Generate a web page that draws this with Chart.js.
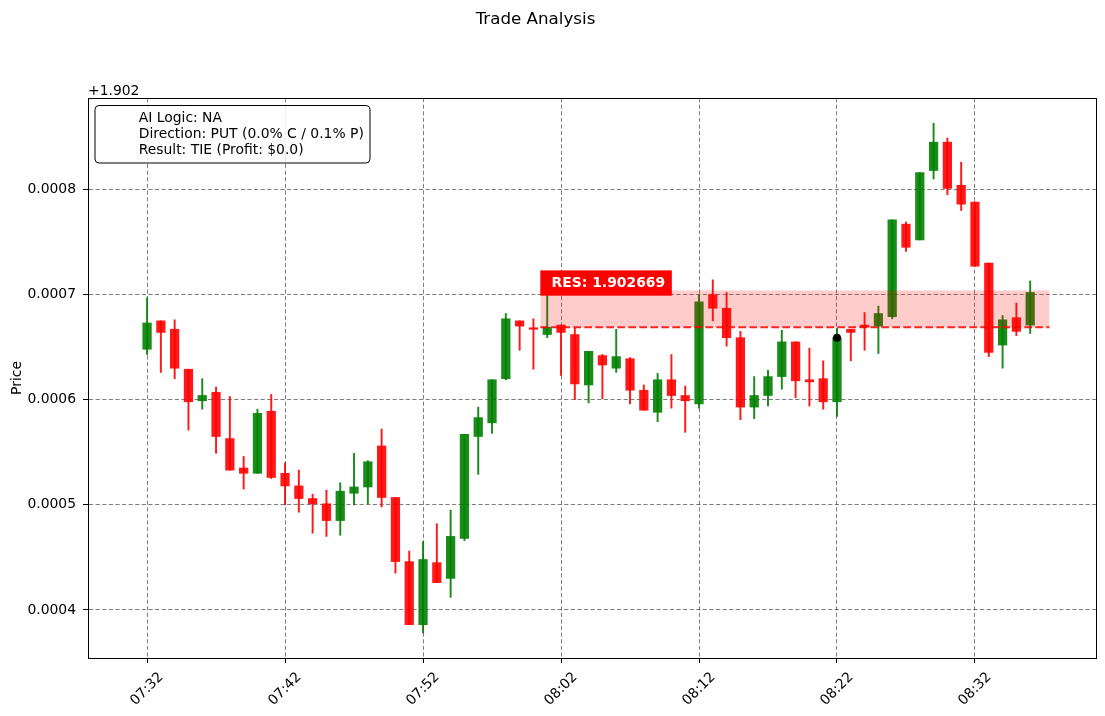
<!doctype html>
<html lang="en">
<head>
<meta charset="utf-8">
<title>Trade Analysis</title>
<script src="https://cdn.jsdelivr.net/npm/chart.js@4.4.1/dist/chart.umd.min.js"></script>
<style>
    html, body { margin: 0; padding: 0; background: #fff; }
    #wrap { width: 1105px; height: 716px; }
</style>
</head>
<body>
<div id="wrap"><canvas id="chart" width="1105" height="716"></canvas></div>
<script>
    // price axis is shown as an offset from this value
    const basePrice = 1.902;

    const times = [
        '07:32', '07:33', '07:34', '07:35', '07:36', '07:37', '07:38', '07:39', '07:40', '07:41',
        '07:42', '07:43', '07:44', '07:45', '07:46', '07:47', '07:48', '07:49', '07:50', '07:51',
        '07:52', '07:53', '07:54', '07:55', '07:56', '07:57', '07:58', '07:59', '08:00', '08:01',
        '08:02', '08:03', '08:04', '08:05', '08:06', '08:07', '08:08', '08:09', '08:10', '08:11',
        '08:12', '08:13', '08:14', '08:15', '08:16', '08:17', '08:18', '08:19', '08:20', '08:21',
        '08:22', '08:23', '08:24', '08:25', '08:26', '08:27', '08:28', '08:29', '08:30', '08:31',
        '08:32', '08:33', '08:34', '08:35', '08:36'
    ];
    const opens = [
        1.902648, 1.902675, 1.902667, 1.902629, 1.902599, 1.902607, 1.902563, 1.902535, 1.902530, 1.902589,
        1.902530, 1.902518, 1.902506, 1.902501, 1.902485, 1.902511, 1.902517, 1.902556, 1.902507, 1.902446,
        1.902386, 1.902445, 1.902430, 1.902468, 1.902565, 1.902578, 1.902620, 1.902675, 1.902668, 1.902662,
        1.902671, 1.902662, 1.902614, 1.902642, 1.902630, 1.902639, 1.902609, 1.902588, 1.902619, 1.902604,
        1.902596, 1.902700, 1.902687, 1.902659, 1.902593, 1.902604, 1.902622, 1.902655, 1.902619, 1.902620,
        1.902598, 1.902667, 1.902671, 1.902670, 1.902679, 1.902767, 1.902752, 1.902818, 1.902845, 1.902804,
        1.902788, 1.902730, 1.902652, 1.902678, 1.902671
    ];
    const highs = [
        1.902697, 1.902675, 1.902676, 1.902629, 1.902620, 1.902612, 1.902603, 1.902546, 1.902591, 1.902605,
        1.902540, 1.902533, 1.902510, 1.902514, 1.902521, 1.902549, 1.902542, 1.902572, 1.902507, 1.902456,
        1.902465, 1.902482, 1.902495, 1.902567, 1.902593, 1.902619, 1.902682, 1.902675, 1.902677, 1.902699,
        1.902671, 1.902668, 1.902646, 1.902643, 1.902667, 1.902640, 1.902614, 1.902625, 1.902643, 1.902613,
        1.902700, 1.902714, 1.902702, 1.902665, 1.902622, 1.902628, 1.902666, 1.902655, 1.902649, 1.902637,
        1.902668, 1.902667, 1.902683, 1.902689, 1.902771, 1.902769, 1.902816, 1.902863, 1.902849, 1.902826,
        1.902788, 1.902730, 1.902680, 1.902692, 1.902713
    ];
    const lows = [
        1.902643, 1.902626, 1.902620, 1.902571, 1.902591, 1.902549, 1.902533, 1.902515, 1.902530, 1.902525,
        1.902500, 1.902493, 1.902473, 1.902470, 1.902471, 1.902500, 1.902501, 1.902498, 1.902435, 1.902386,
        1.902378, 1.902426, 1.902412, 1.902466, 1.902529, 1.902568, 1.902619, 1.902647, 1.902629, 1.902659,
        1.902623, 1.902600, 1.902597, 1.902601, 1.902626, 1.902596, 1.902590, 1.902579, 1.902592, 1.902569,
        1.902592, 1.902675, 1.902651, 1.902581, 1.902582, 1.902594, 1.902610, 1.902602, 1.902594, 1.902591,
        1.902584, 1.902637, 1.902647, 1.902644, 1.902677, 1.902741, 1.902752, 1.902810, 1.902795, 1.902780,
        1.902727, 1.902641, 1.902630, 1.902661, 1.902663
    ];
    const closes = [
        1.902673, 1.902664, 1.902630, 1.902598, 1.902604, 1.902565, 1.902533, 1.902530, 1.902587, 1.902526,
        1.902518, 1.902506, 1.902501, 1.902485, 1.902513, 1.902517, 1.902541, 1.902507, 1.902446, 1.902386,
        1.902448, 1.902426, 1.902470, 1.902567, 1.902583, 1.902619, 1.902677, 1.902670, 1.902667, 1.902669,
        1.902664, 1.902615, 1.902646, 1.902633, 1.902641, 1.902609, 1.902590, 1.902619, 1.902604, 1.902599,
        1.902693, 1.902687, 1.902659, 1.902593, 1.902604, 1.902622, 1.902655, 1.902618, 1.902617, 1.902598,
        1.902659, 1.902664, 1.902669, 1.902682, 1.902771, 1.902745, 1.902816, 1.902845, 1.902801, 1.902786,
        1.902727, 1.902645, 1.902676, 1.902665, 1.902702
    ];

    const xTickIdx = [0, 10, 20, 30, 40, 50, 60];
    const yTicks = [1.9024, 1.9025, 1.9026, 1.9027, 1.9028];

    // resistance zone
    const resLevel = 1.902669;
    const resTop = 1.902704;
    const resSpan = [28.5, 65.4];

    // entry marker
    const entryIdx = 50;
    const entryPrice = 1.902659;

    const infoLines = ['AI Logic: NA', 'Direction: PUT (0.0% C / 0.1% P)', 'Result: TIE (Profit: $0.0)'];

    const FONT = 'DejaVu Sans';
    const upColor = 'rgba(0,128,0,0.9)';
    const downColor = 'rgba(255,0,0,0.9)';
    const candleColors = opens.map((o, i) => closes[i] >= o ? upColor : downColor);

    Chart.defaults.font.family = FONT;
    Chart.defaults.color = '#000';

    const gridOpts = {
        color: 'rgba(0,0,0,0.5)',
        lineWidth: 1,
        offset: false,
        drawTicks: true,
        tickLength: 5,
        tickColor: '#000',
        tickWidth: 1,
        tickBorderDash: []
    };
    const borderOpts = {display: true, color: '#000', width: 1, dash: [4.2, 2.4]};

    const decor = {
        id: 'decor',
        beforeDraw(chart) {
            const ctx = chart.ctx;
            ctx.save();
            ctx.fillStyle = '#fff';
            ctx.fillRect(0, 0, chart.width, chart.height);
            ctx.restore();
        },
        afterDatasetsDraw(chart) {
            // RES label above the zone
            const {ctx, scales: {x, y}} = chart;
            const x0 = x.getPixelForValue(resSpan[0]);
            const yTopPx = y.getPixelForValue(resTop);
            const label = 'RES: ' + resLevel.toFixed(6);
            ctx.save();
            ctx.font = 'bold 13.9px "' + FONT + '"';
            const w = ctx.measureText(label).width + 18;
            ctx.fillStyle = '#ff0000';
            ctx.fillRect(x0, yTopPx - 20, w, 25.3);
            ctx.fillStyle = '#fff';
            ctx.textAlign = 'left';
            ctx.textBaseline = 'middle';
            ctx.fillText(label, x0 + 11.3, yTopPx - 20 + 12.9);
            ctx.restore();
        },
        afterDraw(chart) {
            const {ctx, chartArea: a, scales: {x}} = chart;
            ctx.save();

            // top and right spines
            ctx.strokeStyle = '#000';
            ctx.lineWidth = 1;
            ctx.strokeRect(Math.round(a.left) + 0.5, Math.round(a.top) + 0.5,
                Math.round(a.right - a.left), Math.round(a.bottom - a.top));

            // figure title
            ctx.fillStyle = '#000';
            ctx.font = '16.7px "' + FONT + '"';
            ctx.textAlign = 'center';
            ctx.textBaseline = 'middle';
            ctx.fillText('Trade Analysis', 535.5, 19.5);

            // offset text of the price axis
            ctx.font = '13.9px "' + FONT + '"';
            ctx.textAlign = 'left';
            ctx.textBaseline = 'alphabetic';
            ctx.fillText('+' + basePrice.toFixed(3), a.left, a.top - 3.4);

            // rotated time labels, centred under their ticks
            ctx.textAlign = 'center';
            ctx.textBaseline = 'middle';
            xTickIdx.forEach(v => {
                ctx.save();
                ctx.translate(x.getPixelForValue(v), a.bottom + 31);
                ctx.rotate(-Math.PI / 4);
                ctx.fillText(times[v], 0, 0);
                ctx.restore();
            });

            // info box
            const bx = a.left + 6.5, by = a.top + 7, bw = 275, bh = 57.5;
            ctx.beginPath();
            ctx.roundRect(bx + 0.5, by + 0.5, bw, bh, 4);
            ctx.fillStyle = 'rgba(255,255,255,0.85)';
            ctx.fill();
            ctx.strokeStyle = '#000';
            ctx.lineWidth = 1;
            ctx.stroke();
            ctx.fillStyle = '#000';
            ctx.textAlign = 'left';
            ctx.textBaseline = 'alphabetic';
            infoLines.forEach((t, k) => ctx.fillText(t, a.left + 50.7, a.top + 24 + k * 15.8));

            ctx.restore();
        }
    };

    new Chart(document.getElementById('chart').getContext('2d'), {
        type: 'bar',
        data: {
            datasets: [
                {
                    type: 'scatter',
                    label: 'Entry',
                    data: [{x: entryIdx, y: entryPrice}],
                    pointRadius: 4,
                    backgroundColor: '#000',
                    borderColor: '#000',
                    borderWidth: 0,
                    order: 0
                },
                {
                    type: 'line',
                    label: 'Resistance',
                    data: resSpan.map(v => ({x: v, y: resLevel})),
                    borderColor: 'rgba(255,0,0,0.85)',
                    borderWidth: 2,
                    borderDash: [7.7, 3.3],
                    pointRadius: 0,
                    fill: false,
                    order: 1
                },
                {
                    type: 'line',
                    label: 'Zone',
                    data: resSpan.map(v => ({x: v, y: resTop})),
                    borderColor: 'rgba(0,0,0,0)',
                    borderWidth: 0,
                    pointRadius: 0,
                    fill: {value: resLevel},
                    backgroundColor: 'rgba(255,0,0,0.2)',
                    order: 2
                },
                {
                    type: 'bar',
                    label: 'Body',
                    data: opens.map((o, i) => ({x: i, y: [o, closes[i]]})),
                    backgroundColor: candleColors,
                    barThickness: 8.6,
                    minBarLength: 1.5,
                    grouped: false,
                    order: 3
                },
                {
                    type: 'bar',
                    label: 'Wick',
                    data: lows.map((l, i) => ({x: i, y: [l, highs[i]]})),
                    backgroundColor: candleColors,
                    barThickness: 1.3,
                    grouped: false,
                    order: 4
                }
            ]
        },
        options: {
            responsive: false,
            animation: false,
            events: [],
            layout: {padding: {top: 98, left: 0, right: 9, bottom: 0}},
            plugins: {
                legend: {display: false},
                tooltip: {enabled: false},
                title: {display: false}
            },
            scales: {
                x: {
                    type: 'linear',
                    min: -4.28,
                    max: 68.77,
                    offset: false,
                    afterBuildTicks: axis => { axis.ticks = xTickIdx.map(v => ({value: v})); },
                    ticks: {display: false},
                    grid: gridOpts,
                    border: borderOpts,
                    afterFit: s => { s.height = 58; }
                },
                y: {
                    type: 'linear',
                    min: 1.9023543,
                    max: 1.902887,
                    beginAtZero: false,
                    afterBuildTicks: axis => { axis.ticks = yTicks.map(v => ({value: v})); },
                    ticks: {
                        color: '#000',
                        font: {size: 13.9},
                        padding: 7,
                        callback: v => (v - basePrice).toFixed(4)
                    },
                    grid: gridOpts,
                    border: borderOpts,
                    title: {
                        display: true,
                        text: 'Price',
                        color: '#000',
                        font: {size: 13.9},
                        padding: {top: 8.7, bottom: 0}
                    },
                    afterFit: s => { s.width = 88; }
                }
            }
        },
        plugins: [decor]
    });
</script>
</body>
</html>
